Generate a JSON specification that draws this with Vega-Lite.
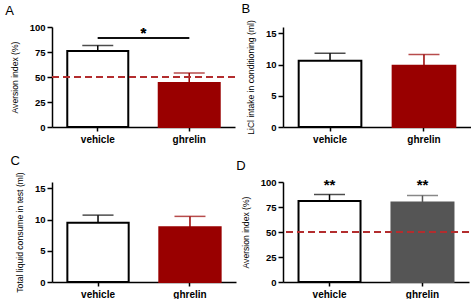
{
  "$schema": "https://vega.github.io/schema/vega-lite/v6.json",
  "padding": {"left": 5, "top": 2, "right": 0, "bottom": 0},
  "background": "white",
  "datasets": {
    "a": [{"group": "vehicle", "mean": 76, "upper": 81.5}, {"group": "ghrelin", "mean": 44, "upper": 54}],
    "b": [{"group": "vehicle", "mean": 10.6, "upper": 11.8}, {"group": "ghrelin", "mean": 9.8, "upper": 11.6}],
    "c": [{"group": "vehicle", "mean": 9.5, "upper": 10.7}, {"group": "ghrelin", "mean": 8.75, "upper": 10.5}],
    "d": [{"group": "vehicle", "mean": 81, "upper": 87.5}, {"group": "ghrelin", "mean": 79.5, "upper": 86.5}]
  },
  "columns": 2,
  "spacing": {"column": 0, "row": 10},
  "resolve": {"scale": {"color": "independent", "stroke": "independent", "fill": "independent"}},
  "concat": [
    {
      "width": 183, "height": 100,
      "title": {"text": "A"},
      "data": {"name": "a"},
      "encoding": {
        "x": {"field": "group", "type": "nominal", "sort": ["vehicle", "ghrelin"], "scale": {"paddingInner": 0.333, "paddingOuter": 0.167}, "axis": {"title": null}}
      },
      "layer": [
        {"mark": {"type": "bar", "strokeWidth": 2},
         "encoding": {
           "y": {"field": "mean", "type": "quantitative", "scale": {"domain": [0, 100]}, "axis": {"values": [0, 25, 50, 75, 100], "labelOverlap": false, "title": "Aversion index (%)"}},
           "fill": {"field": "group", "type": "nominal", "scale": {"domain": ["vehicle", "ghrelin"], "range": ["#ffffff", "#990000"]}, "legend": null},
           "stroke": {"field": "group", "type": "nominal", "scale": {"domain": ["vehicle", "ghrelin"], "range": ["#000000", "#990000"]}, "legend": null}
         }},
        {"mark": {"type": "rule", "strokeWidth": 1.5},
         "encoding": {"y": {"field": "mean", "type": "quantitative", "axis": {"values": [0, 25, 50, 75, 100], "labelOverlap": false, "title": "Aversion index (%)"}}, "y2": {"field": "upper"},
           "color": {"field": "group", "type": "nominal", "scale": {"domain": ["vehicle", "ghrelin"], "range": ["#000000", "#990000"]}, "legend": null}}},
        {"mark": {"type": "tick", "size": 31, "thickness": 1.5},
         "encoding": {"y": {"field": "upper", "type": "quantitative", "axis": {"values": [0, 25, 50, 75, 100], "labelOverlap": false, "title": "Aversion index (%)"}},
           "color": {"field": "group", "type": "nominal", "scale": {"domain": ["vehicle", "ghrelin"], "range": ["#000000", "#990000"]}, "legend": null}}},
        {"mark": {"type": "rule", "color": "#b32d2e", "strokeWidth": 2, "strokeDash": [7, 4]},
         "encoding": {"x": null, "y": {"datum": 50, "type": "quantitative", "axis": {"values": [0, 25, 50, 75, 100], "labelOverlap": false, "title": "Aversion index (%)"}}}},
        {"mark": {"type": "rule", "color": "#000000", "strokeWidth": 1.5},
         "encoding": {"x": {"datum": "vehicle"}, "x2": {"datum": "ghrelin"}, "y": {"datum": 89, "type": "quantitative", "axis": {"values": [0, 25, 50, 75, 100], "labelOverlap": false, "title": "Aversion index (%)"}}}},
        {"mark": {"type": "text", "text": "*", "fontSize": 15, "fontWeight": "bold", "baseline": "alphabetic", "font": "Liberation Sans"},
         "encoding": {"x": {"datum": "vehicle", "bandPosition": 1.25}, "y": {"datum": 89, "type": "quantitative", "axis": {"values": [0, 25, 50, 75, 100], "labelOverlap": false, "title": "Aversion index (%)"}}}}
      ]
    },
    {
      "width": 188, "height": 100,
      "title": {"text": "B"},
      "data": {"name": "b"},
      "encoding": {
        "x": {"field": "group", "type": "nominal", "sort": ["vehicle", "ghrelin"], "scale": {"paddingInner": 0.333, "paddingOuter": 0.167}, "axis": {"title": null}}
      },
      "layer": [
        {"mark": {"type": "bar", "strokeWidth": 2},
         "encoding": {
           "y": {"field": "mean", "type": "quantitative", "scale": {"domain": [0, 15]}, "axis": {"values": [0, 5, 10, 15], "labelOverlap": false, "title": "LiCl intake in conditioning (ml)"}},
           "fill": {"field": "group", "type": "nominal", "scale": {"domain": ["vehicle", "ghrelin"], "range": ["#ffffff", "#990000"]}, "legend": null},
           "stroke": {"field": "group", "type": "nominal", "scale": {"domain": ["vehicle", "ghrelin"], "range": ["#000000", "#990000"]}, "legend": null}
         }},
        {"mark": {"type": "rule", "strokeWidth": 1.5},
         "encoding": {"y": {"field": "mean", "type": "quantitative", "axis": {"values": [0, 5, 10, 15], "labelOverlap": false, "title": "LiCl intake in conditioning (ml)"}}, "y2": {"field": "upper"},
           "color": {"field": "group", "type": "nominal", "scale": {"domain": ["vehicle", "ghrelin"], "range": ["#000000", "#990000"]}, "legend": null}}},
        {"mark": {"type": "tick", "size": 31, "thickness": 1.5},
         "encoding": {"y": {"field": "upper", "type": "quantitative", "axis": {"values": [0, 5, 10, 15], "labelOverlap": false, "title": "LiCl intake in conditioning (ml)"}},
           "color": {"field": "group", "type": "nominal", "scale": {"domain": ["vehicle", "ghrelin"], "range": ["#000000", "#990000"]}, "legend": null}}}
      ]
    },
    {
      "width": 184, "height": 100,
      "title": {"text": "C"},
      "data": {"name": "c"},
      "encoding": {
        "x": {"field": "group", "type": "nominal", "sort": ["vehicle", "ghrelin"], "scale": {"paddingInner": 0.333, "paddingOuter": 0.167}, "axis": {"title": null}}
      },
      "layer": [
        {"mark": {"type": "bar", "strokeWidth": 2},
         "encoding": {
           "y": {"field": "mean", "type": "quantitative", "scale": {"domain": [0, 15]}, "axis": {"values": [0, 5, 10, 15], "labelOverlap": false, "title": "Total liquid consume in test (ml)"}},
           "fill": {"field": "group", "type": "nominal", "scale": {"domain": ["vehicle", "ghrelin"], "range": ["#ffffff", "#990000"]}, "legend": null},
           "stroke": {"field": "group", "type": "nominal", "scale": {"domain": ["vehicle", "ghrelin"], "range": ["#000000", "#990000"]}, "legend": null}
         }},
        {"mark": {"type": "rule", "strokeWidth": 1.5},
         "encoding": {"y": {"field": "mean", "type": "quantitative", "axis": {"values": [0, 5, 10, 15], "labelOverlap": false, "title": "Total liquid consume in test (ml)"}}, "y2": {"field": "upper"},
           "color": {"field": "group", "type": "nominal", "scale": {"domain": ["vehicle", "ghrelin"], "range": ["#000000", "#990000"]}, "legend": null}}},
        {"mark": {"type": "tick", "size": 31, "thickness": 1.5},
         "encoding": {"y": {"field": "upper", "type": "quantitative", "axis": {"values": [0, 5, 10, 15], "labelOverlap": false, "title": "Total liquid consume in test (ml)"}},
           "color": {"field": "group", "type": "nominal", "scale": {"domain": ["vehicle", "ghrelin"], "range": ["#000000", "#990000"]}, "legend": null}}}
      ]
    },
    {
      "width": 186, "height": 100,
      "title": {"text": "D"},
      "data": {"name": "d"},
      "encoding": {
        "x": {"field": "group", "type": "nominal", "sort": ["vehicle", "ghrelin"], "scale": {"paddingInner": 0.333, "paddingOuter": 0.167}, "axis": {"title": null}}
      },
      "layer": [
        {"mark": {"type": "bar", "strokeWidth": 2},
         "encoding": {
           "y": {"field": "mean", "type": "quantitative", "scale": {"domain": [0, 100]}, "axis": {"values": [0, 25, 50, 75, 100], "labelOverlap": false, "title": "Aversion index (%)"}},
           "fill": {"field": "group", "type": "nominal", "scale": {"domain": ["vehicle", "ghrelin"], "range": ["#ffffff", "#555555"]}, "legend": null},
           "stroke": {"field": "group", "type": "nominal", "scale": {"domain": ["vehicle", "ghrelin"], "range": ["#000000", "#555555"]}, "legend": null}
         }},
        {"mark": {"type": "rule", "strokeWidth": 1.5},
         "encoding": {"y": {"field": "mean", "type": "quantitative", "axis": {"values": [0, 25, 50, 75, 100], "labelOverlap": false, "title": "Aversion index (%)"}}, "y2": {"field": "upper"},
           "color": {"field": "group", "type": "nominal", "scale": {"domain": ["vehicle", "ghrelin"], "range": ["#000000", "#555555"]}, "legend": null}}},
        {"mark": {"type": "tick", "size": 31, "thickness": 1.5},
         "encoding": {"y": {"field": "upper", "type": "quantitative", "axis": {"values": [0, 25, 50, 75, 100], "labelOverlap": false, "title": "Aversion index (%)"}},
           "color": {"field": "group", "type": "nominal", "scale": {"domain": ["vehicle", "ghrelin"], "range": ["#000000", "#555555"]}, "legend": null}}},
        {"mark": {"type": "rule", "color": "#b32d2e", "strokeWidth": 2, "strokeDash": [7, 4]},
         "encoding": {"x": null, "y": {"datum": 50, "type": "quantitative", "axis": {"values": [0, 25, 50, 75, 100], "labelOverlap": false, "title": "Aversion index (%)"}}}},
        {"mark": {"type": "text", "text": "**", "fontSize": 15, "fontWeight": "bold", "baseline": "alphabetic", "font": "Liberation Sans"},
         "encoding": {"y": {"datum": 92, "type": "quantitative", "axis": {"values": [0, 25, 50, 75, 100], "labelOverlap": false, "title": "Aversion index (%)"}}}}
      ]
    }
  ],
  "config": {
    "view": {"stroke": null},
    "font": "Liberation Sans",
    "title": {"anchor": "start", "frame": "bounds", "fontSize": 13, "fontWeight": "normal", "font": "Liberation Sans", "color": "#000000", "offset": 4, "dx": -5},
    "axis": {
      "grid": false,
      "labelFont": "Liberation Sans", "labelFontWeight": "bold", "labelFontSize": 10, "labelColor": "#000000",
      "titleFont": "Liberation Sans", "titleFontWeight": "normal", "titleFontSize": 8.6, "titleColor": "#000000",
      "domainColor": "#000000", "domainWidth": 1.5, "tickColor": "#000000", "tickWidth": 1.5, "tickSize": 5
    },
    "axisX": {"labelAngle": 0, "labelPadding": 3, "tickSize": 4},
    "axisY": {"labelPadding": 2, "titlePadding": 10, "labelFontSize": 9.5}
  }
}
